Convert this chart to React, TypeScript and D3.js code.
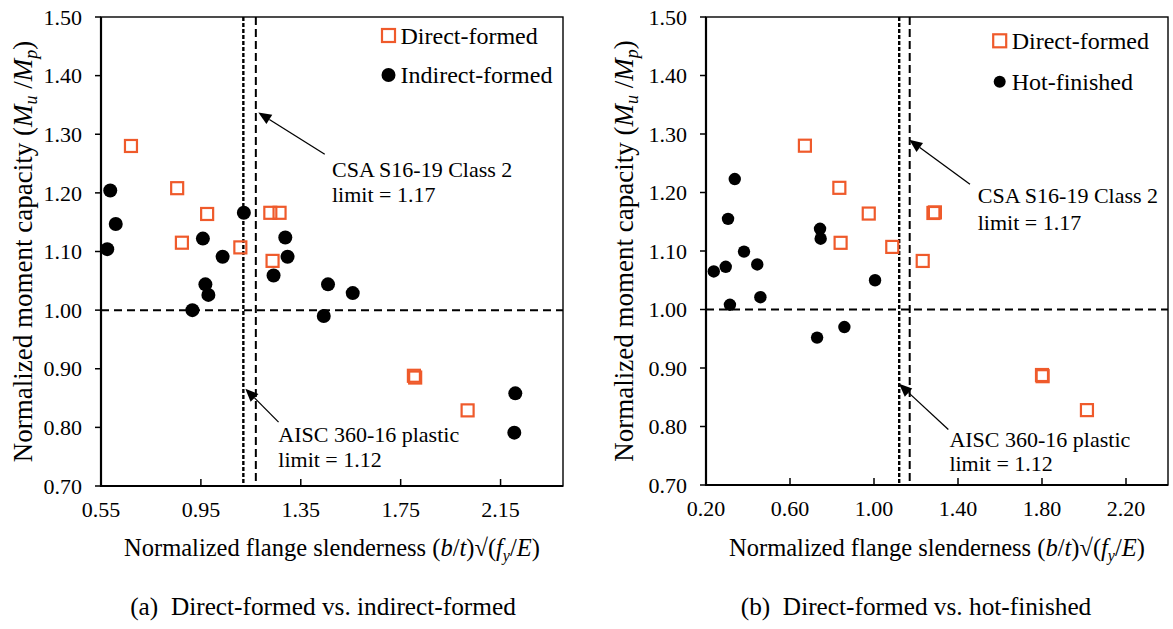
import React from 'react';
import * as d3 from 'd3';

const FONT = '"Liberation Serif", "Times New Roman", Times, serif';
const ORANGE = '#EF5A2B';

// ---- tick values ----
const yTicks = [0.7, 0.8, 0.9, 1.0, 1.1, 1.2, 1.3, 1.4, 1.5];
const xTicksA = [0.55, 0.95, 1.35, 1.75, 2.15];
const xTicksB = [0.2, 0.6, 1.0, 1.4, 1.8, 2.2];

// ---- panel (a) data ----
const directA_x = [0.670, 0.855, 0.975, 1.228, 1.265, 0.874, 1.108, 1.237, 1.803, 1.808, 2.018];
const directA_y = [1.280, 1.208, 1.164, 1.166, 1.166, 1.115, 1.107, 1.084, 0.888, 0.885, 0.829];
const indirectA_x = [0.587, 0.609, 0.575, 0.958, 1.122, 1.288, 1.297, 1.037, 0.968, 0.980, 0.916, 1.241, 1.459, 1.558, 1.442, 2.209, 2.205];
const indirectA_y = [1.204, 1.147, 1.104, 1.122, 1.166, 1.124, 1.091, 1.091, 1.044, 1.026, 1.000, 1.059, 1.044, 1.029, 0.990, 0.858, 0.791];

// ---- panel (b) data ----
const directB_x = [0.671, 0.835, 0.975, 0.841, 1.087, 1.232, 1.283, 1.290, 1.800, 1.803, 2.014];
const directB_y = [1.280, 1.208, 1.164, 1.114, 1.107, 1.083, 1.165, 1.166, 0.888, 0.886, 0.828];
const hotB_x = [0.337, 0.305, 0.743, 0.746, 0.237, 0.294, 0.381, 0.444, 0.314, 0.459, 0.729, 0.859, 1.005];
const hotB_y = [1.223, 1.155, 1.138, 1.121, 1.065, 1.073, 1.099, 1.077, 1.008, 1.021, 0.952, 0.970, 1.050];

// ---- reference limits ----
const limitAISC = 1.12;
const limitCSA = 1.17;
const unity = 1.0;

const zip = (xs: number[], ys: number[]) => xs.map((x, i) => ({ x, y: ys[i] }));

type Ann = { tip: [number, number]; tail: [number, number]; tx: number; ty1: number; ty2: number; l1: string; l2: string };

function Arrow({ x1, y1, x2, y2 }: { x1: number; y1: number; x2: number; y2: number }) {
  const ang = Math.atan2(y2 - y1, x2 - x1);
  const L = 13, W = 5.5;
  const bx = x2 - L * Math.cos(ang), by = y2 - L * Math.sin(ang);
  const px = -Math.sin(ang) * W, py = Math.cos(ang) * W;
  return (
    <g>
      <line x1={x1} y1={y1} x2={bx} y2={by} stroke="#000" strokeWidth={1.3} />
      <polygon points={`${x2},${y2} ${bx + px},${by + py} ${bx - px},${by - py}`} fill="#000" />
    </g>
  );
}

function Panel(props: {
  L: number; R: number; T: number; B: number;
  xDomain: [number, number]; xTicks: number[];
  direct: { x: number; y: number }[];
  other: { x: number; y: number }[];
  otherLabel: string; circleR: number;
  legX: number; legY1: number; legY2: number; legR: number;
  anns: Ann[];
  yTitleX: number; caption: string; captionX: number;
}) {
  const { L, R, T, B } = props;
  const x = d3.scaleLinear().domain(props.xDomain).range([L, R]);
  const y = d3.scaleLinear().domain([0.7, 1.5]).range([B, T]);
  const fmt = d3.format('.2f');
  const sq = 12;
  const midX = (L + R) / 2;
  return (
    <g fontFamily={FONT} fill="#000">
      {/* frame */}
      <rect x={L} y={T} width={R - L} height={B - T} fill="none" stroke="#000" strokeWidth={1.4} />
      {/* reference lines */}
      <line x1={L} x2={R} y1={y(unity)} y2={y(unity)} stroke="#000" strokeWidth={2} strokeDasharray="8,5" />
      <line x1={x(limitAISC)} x2={x(limitAISC)} y1={T} y2={B} stroke="#000" strokeWidth={2.4} strokeDasharray="4,2" />
      <line x1={x(limitCSA)} x2={x(limitCSA)} y1={T} y2={B} stroke="#000" strokeWidth={2} strokeDasharray="8,4" />
      {/* axes */}
      <line x1={L} x2={L} y1={T} y2={B + 1} stroke="#000" strokeWidth={2.2} />
      <line x1={L - 1} x2={R} y1={B} y2={B} stroke="#000" strokeWidth={2.2} />
      {yTicks.map((t) => (
        <g key={'y' + t}>
          <line x1={L - 6} x2={L} y1={y(t)} y2={y(t)} stroke="#000" strokeWidth={1.5} />
          <text x={L - 19} y={y(t)} dy="0.35em" textAnchor="end" fontSize={22}>{fmt(t)}</text>
        </g>
      ))}
      {props.xTicks.map((t) => (
        <g key={'x' + t}>
          <line x1={x(t)} x2={x(t)} y1={B - 7} y2={B} stroke="#000" strokeWidth={1.5} />
          <text x={x(t)} y={B + 31} textAnchor="middle" fontSize={22}>{fmt(t)}</text>
        </g>
      ))}
      {/* points */}
      {props.other.map((d, i) => (
        <circle key={'c' + i} cx={x(d.x)} cy={y(d.y)} r={props.circleR} fill="#000" />
      ))}
      {props.direct.map((d, i) => (
        <rect key={'s' + i} x={x(d.x) - sq / 2} y={y(d.y) - sq / 2} width={sq} height={sq} fill="none" stroke={ORANGE} strokeWidth={2.2} />
      ))}
      {/* legend */}
      <rect x={props.legX - 6.5} y={props.legY1 - 6.5} width={13} height={13} fill="#fff" stroke={ORANGE} strokeWidth={2.2} />
      <text x={props.legX + 12} y={props.legY1 + 8} fontSize={24}>Direct-formed</text>
      <circle cx={props.legX} cy={props.legY2} r={props.legR} fill="#000" />
      <text x={props.legX + 12} y={props.legY2 + 8} fontSize={24}>{props.otherLabel}</text>
      {/* annotations */}
      {props.anns.map((a, i) => (
        <g key={'a' + i}>
          <Arrow x1={x(a.tail[0])} y1={y(a.tail[1])} x2={x(a.tip[0])} y2={y(a.tip[1])} />
          <text x={x(a.tx)} y={y(a.ty1)} fontSize={22}>{a.l1}</text>
          <text x={x(a.tx)} y={y(a.ty2)} fontSize={22}>{a.l2}</text>
        </g>
      ))}
      {/* axis titles */}
      <text x={midX} y={556} textAnchor="middle" fontSize={24.5}>
        Normalized flange slenderness (<tspan fontStyle="italic">b</tspan>/<tspan fontStyle="italic">t</tspan>)√(<tspan fontStyle="italic">f</tspan><tspan fontSize={16} dy={5} fontStyle="italic">y</tspan><tspan dy={-5}>/</tspan><tspan fontStyle="italic">E</tspan>)
      </text>
      <text transform={`translate(${props.yTitleX},${(T + B) / 2}) rotate(-90)`} textAnchor="middle" fontSize={27}>
        Normalized moment capacity (<tspan fontStyle="italic">M</tspan><tspan fontSize={18} dy={5} fontStyle="italic">u</tspan><tspan dy={-5}> /</tspan><tspan fontStyle="italic">M</tspan><tspan fontSize={18} dy={5} fontStyle="italic">p</tspan><tspan dy={-5}>)</tspan>
      </text>
      <text x={props.captionX} y={615} textAnchor="middle" fontSize={25.3} style={{ whiteSpace: 'pre' }}>{props.caption}</text>
    </g>
  );
}

export default function App() {
  const annsA: Ann[] = [
    { tip: [1.18, 1.337], tail: [1.446, 1.266], tx: 1.475, ty1: 1.227, ty2: 1.185, l1: 'CSA S16-19 Class 2', l2: 'limit = 1.17' },
    { tip: [1.128, 0.866], tail: [1.261, 0.809], tx: 1.26, ty1: 0.775, ty2: 0.733, l1: 'AISC 360-16 plastic', l2: 'limit = 1.12' },
  ];
  const annsB: Ann[] = [
    { tip: [1.168, 1.29], tail: [1.457, 1.214], tx: 1.494, ty1: 1.182, ty2: 1.136, l1: 'CSA S16-19 Class 2', l2: 'limit = 1.17' },
    { tip: [1.119, 0.873], tail: [1.354, 0.795], tx: 1.359, ty1: 0.765, ty2: 0.724, l1: 'AISC 360-16 plastic', l2: 'limit = 1.12' },
  ];
  return (
    <svg width={1173} height={629} viewBox="0 0 1173 629" style={{ position: 'absolute', left: 0, top: 0, background: '#fff' }}>
      <rect width={1173} height={629} fill="#fff" />
      <Panel L={101} R={563} T={17} B={486} xDomain={[0.55, 2.4]} xTicks={xTicksA}
        direct={zip(directA_x, directA_y)} other={zip(indirectA_x, indirectA_y)}
        otherLabel="Indirect-formed" circleR={7}
        legX={388.5} legY1={35.5} legY2={75} legR={7}
        anns={annsA} yTitleX={32} caption="(a)  Direct-formed vs. indirect-formed" captionX={323} />
      <Panel L={706} R={1168} T={17} B={485} xDomain={[0.2, 2.4]} xTicks={xTicksB}
        direct={zip(directB_x, directB_y)} other={zip(hotB_x, hotB_y)}
        otherLabel="Hot-finished" circleR={6.2}
        legX={999.7} legY1={40.8} legY2={81.7} legR={6}
        anns={annsB} yTitleX={633} caption="(b)  Direct-formed vs. hot-finished" captionX={916} />
    </svg>
  );
}
